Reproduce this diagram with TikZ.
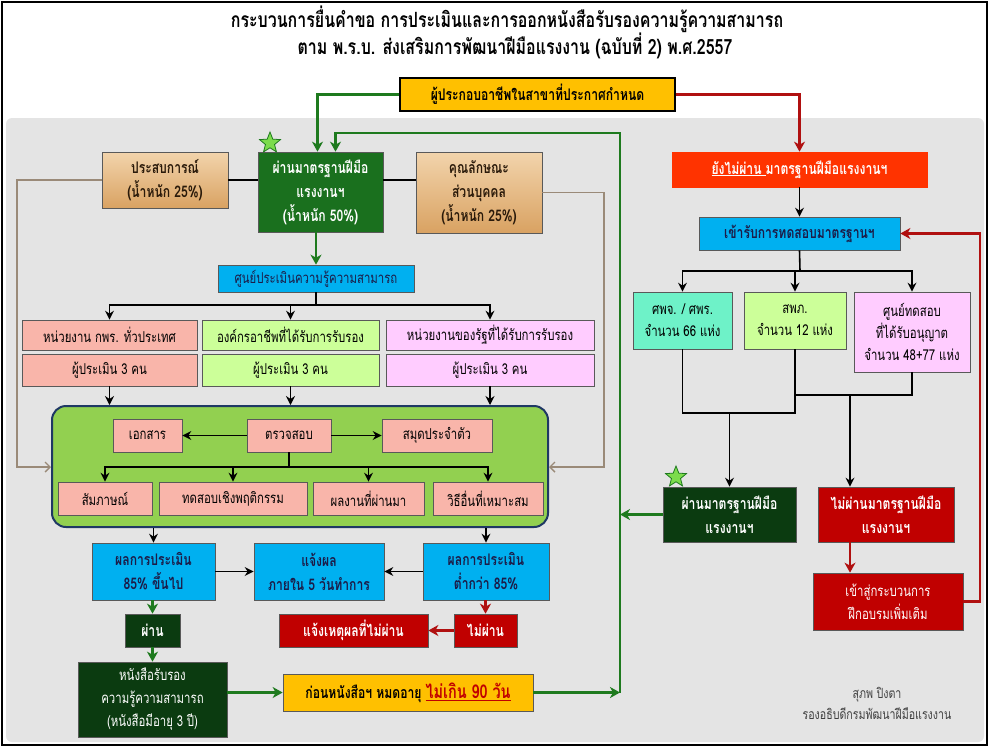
\documentclass[tikz,border=0pt]{standalone}
\usepackage{fontspec}
\setmainfont{Loma}[Script=Thai,FakeStretch=0.76]
\usetikzlibrary{arrows.meta,shapes.geometric,calc}
\definecolor{cYel}{HTML}{FFC000}
\definecolor{cGreen}{HTML}{1A701E}
\definecolor{cDark}{HTML}{0B3B10}
\definecolor{cTanA}{HTML}{F2D4AC}
\definecolor{cTanB}{HTML}{D9A262}
\definecolor{cBlue}{HTML}{00B0F0}
\definecolor{cSalm}{HTML}{F9B5AA}
\definecolor{cLime}{HTML}{CCFF99}
\definecolor{cPink}{HTML}{FFCCFF}
\definecolor{cTeal}{HTML}{6EF2C8}
\definecolor{cArea}{HTML}{92D050}
\definecolor{cNavy}{HTML}{1F3864}
\definecolor{cOrg}{HTML}{FF3300}
\definecolor{cRed}{HTML}{C00000}
\definecolor{cLineG}{HTML}{1E7A1E}
\definecolor{cLineR}{HTML}{B01010}
\definecolor{cBrown}{HTML}{9A8A78}
\definecolor{cPanel}{HTML}{E4E4E4}
\definecolor{cStar}{HTML}{7CDC4C}
\definecolor{cTxt}{HTML}{1C1C48}
\definecolor{cTanT}{HTML}{2A1A0A}
\begin{document}
\begin{tikzpicture}[x=1pt,y=-1pt,
  bx/.style={draw=black!65, line width=0.7pt, inner sep=1pt, align=center},
  wh/.style 2 args={minimum width=#1pt, minimum height=#2pt},
  fR/.style={font=\fontsize{15}{22}\selectfont},
  fB/.style={font=\fontsize{16}{24}\selectfont\bfseries},
  blk/.style={line width=1.6pt, draw=black},
  barr/.style={blk, -{Stealth[length=9pt,width=9pt,inset=3pt]}},
  gln/.style={line width=2.4pt, draw=cLineG},
  garr/.style={gln, -{Stealth[length=10pt,width=11pt,inset=3pt]}},
  rln/.style={line width=2.2pt, draw=cLineR},
  rarr/.style={rln, -{Stealth[length=10pt,width=11pt,inset=3pt]}},
  brln/.style={line width=1.4pt, draw=cBrown},
  brarr/.style={brln, -{Straight Barb[length=5pt,width=10pt]}},
  starry/.style={star, star points=5, star point ratio=2.3, fill=cStar, draw=cLineG, line width=0.8pt, minimum size=22pt, inner sep=0pt}
]
\useasboundingbox (0,0) rectangle (989,748);
\fill[white] (0,0) rectangle (989,748);
\fill[cPanel, rounded corners=6pt] (6,118) rectangle (984,742);
\draw[line width=2pt] (2,2) rectangle (987,745);

% titles
\node[font=\fontsize{21}{24}\selectfont\bfseries] (t1) at (507,19) {กระบวนการยื่นคำขอ การประเมินและการออกหนังสือรับรองความรู้ความสามารถ};
\node[font=\fontsize{21}{24}\selectfont\bfseries] (t2) at (515,46) {ตาม พ.ร.บ. ส่งเสริมการพัฒนาฝีมือแรงงาน (ฉบับที่ 2) พ.ศ.2557};

% top
\node[bx, draw=black, line width=2.5pt, fill=cYel, wh={275}{33}, fB] (top) at (537.5,94.5) {ผู้ประกอบอาชีพในสาขาที่ประกาศกำหนด};

% left part
\node[bx, fill=cGreen, text=white, wh={125}{80}, fB] (G) at (320.5,192) {ผ่านมาตรฐานฝีมือ\\แรงงานฯ\\(น้ำหนัก 50\%)};
\node[bx, top color=cTanA, bottom color=cTanB, text=cTanT, wh={126}{56}, fB] (L) at (165,180) {ประสบการณ์\\(น้ำหนัก 25\%)};
\node[bx, top color=cTanA, bottom color=cTanB, text=cTanT, wh={126}{81}, fB] (Rt) at (479,192.5) {คุณลักษณะ\\ส่วนบุคคล\\(น้ำหนัก 25\%)};
\node[bx, fill=cBlue, text=cTxt, wh={196}{27}, fR] (C) at (316,278.5) {ศูนย์ประเมินความรู้ความสามารถ};

\node[bx, fill=cSalm, wh={175}{30}, fR] (A1) at (109.5,335) {หน่วยงาน กพร. ทั่วประเทศ};
\node[bx, fill=cLime, wh={177}{30}, fR] (A2) at (290.5,335) {องค์กรอาชีพที่ได้รับการรับรอง};
\node[bx, fill=cPink, wh={208}{30}, fR] (A3) at (490,335) {หน่วยงานของรัฐที่ได้รับการรับรอง};
\node[bx, fill=cSalm, wh={175}{32}, fR] (B1) at (109.5,370) {ผู้ประเมิน 3 คน};
\node[bx, fill=cLime, wh={177}{32}, fR] (B2) at (290.5,370) {ผู้ประเมิน 3 คน};
\node[bx, fill=cPink, wh={208}{32}, fR] (B3) at (490,370) {ผู้ประเมิน 3 คน};

\node[draw=cNavy, line width=2pt, fill=cArea, rounded corners=14pt, wh={496}{121}] (GA) at (300,466.5) {};
\node[bx, fill=cSalm, wh={69}{33}, fR] (Doc) at (147.5,435.5) {เอกสาร};
\node[bx, fill=cSalm, wh={84}{33}, fR] (Check) at (289,435.5) {ตรวจสอบ};
\node[bx, fill=cSalm, wh={110}{33}, fR] (Book) at (437,435.5) {สมุดประจำตัว};
\node[bx, fill=cSalm, wh={94}{33}, fR] (S1) at (105,498.5) {สัมภาษณ์};
\node[bx, fill=cSalm, wh={148}{33}, fR] (S2) at (233,498.5) {ทดสอบเชิงพฤติกรรม};
\node[bx, fill=cSalm, wh={111}{33}, fR] (S3) at (368.5,498.5) {ผลงานที่ผ่านมา};
\node[bx, fill=cSalm, wh={110}{33}, fR] (S4) at (488,498.5) {วิธีอื่นที่เหมาะสม};

\node[bx, fill=cBlue, text=cTxt, wh={123}{57}, fB] (P1) at (153.5,571.5) {ผลการประเมิน\\85\% ขึ้นไป};
\node[bx, fill=cBlue, text=cTxt, wh={130}{57}, fB] (N) at (319,571.5) {แจ้งผล\\ภายใน 5 วันทำการ};
\node[bx, fill=cBlue, text=cTxt, wh={126}{57}, fB] (P2) at (486,571.5) {ผลการประเมิน\\ต่ำกว่า 85\%};
\node[bx, fill=cDark, text=white, wh={55}{33}, fB] (Pass) at (152.5,630.5) {ผ่าน};
\node[bx, fill=cRed, text=white, wh={149}{33}, fB] (Reason) at (353.5,630.5) {แจ้งเหตุผลที่ไม่ผ่าน};
\node[bx, fill=cRed, text=white, wh={63}{33}, fB] (Fail) at (485.5,630.5) {ไม่ผ่าน};
\node[bx, fill=cDark, text=white, wh={149}{75}, font=\fontsize{15}{23}\selectfont] (Cert) at (152.5,699.5) {หนังสือรับรอง\\ความรู้ความสามารถ\\(หนังสือมีอายุ 3 ปี)};
\node[bx, fill=cYel, wh={250}{37}, fB] (Y2) at (408,692.5) {ก่อนหนังสือฯ หมดอายุ {\fontsize{19}{24}\selectfont\color{cRed}\underline{ไม่เกิน 90 วัน}}};

% right part
\node[bx, draw=cOrg, fill=cOrg, text=white, wh={255}{35}, fB] (NP) at (799.5,169.5) {\underline{ยังไม่ผ่าน\ }มาตรฐานฝีมือแรงงานฯ};
\node[bx, fill=cBlue, text=cTxt, wh={201}{33}, fB] (T) at (799.5,233.5) {เข้ารับการทดสอบมาตรฐานฯ};
\node[bx, fill=cTeal, wh={99}{57}, fR] (R1) at (682.5,320.5) {ศพจ. / ศพร.\\จำนวน 66 แห่ง};
\node[bx, fill=cLime, wh={102}{57}, fR] (R2) at (795,320.5) {สพภ.\\จำนวน 12 แห่ง};
\node[bx, fill=cPink, wh={116}{80}, fR] (R3) at (912,332) {ศูนย์ทดสอบ\\ที่ได้รับอนุญาต\\จำนวน 48+77 แห่ง};
\node[bx, fill=cDark, text=white, wh={133}{55}, fB] (RP) at (729.5,514.5) {ผ่านมาตรฐานฝีมือ\\แรงงานฯ};
\node[bx, fill=cRed, text=white, wh={136}{55}, fB] (RF) at (886,514.5) {ไม่ผ่านมาตรฐานฝีมือ\\แรงงานฯ};
\node[bx, fill=cRed, text=white, wh={150}{57}, font=\fontsize{15}{23}\selectfont] (RT) at (888,601.5) {เข้าสู่กระบวนการ\\ฝึกอบรมเพิ่มเติม};

\node[align=center, text=black!75, font=\fontsize{14}{21}\selectfont] (sig) at (877,703) {สุภพ ปิงตา\\รองอธิบดีกรมพัฒนาฝีมือแรงงาน};

\node[starry] (s1) at (270,143) {};
\node[starry] (s2) at (676,477) {};

% ---- connectors ----
\draw[garr] (top.west) -| ([xshift=-3pt]G.north);
\coordinate (gb) at (620,692.5);
\coordinate (gv) at (620,133);
\draw[garr] (gb) -- (gv) -| ([xshift=15pt]G.north);
\draw[garr] (Y2.east) -- (gb);
\draw[garr] (RP.west) -- (RP.west -| gb);
\draw[rarr] (top.east) -| (NP.north);

\coordinate (ty) at (0,180);
\draw[blk] (L.east |- ty) -- (G.west |- ty);
\draw[blk] (G.east |- ty) -- (Rt.west |- ty);
\coordinate (bl) at (17,467);
\coordinate (br) at (604,467);
\draw[brarr] (L.west) -| (bl) -- (GA.west |- bl);
\draw[brarr] (Rt.east) -| (br) -- (GA.east |- br);

\draw[garr] (C.north |- G.south) -- (C.north);
\coordinate (cj) at (316,305);
\draw[blk] (C.south) -- (cj);
\draw[blk, line cap=rect] (A1.north |- cj) -- (A3.north |- cj);
\draw[barr] (A1.north |- cj) -- (A1.north);
\draw[barr] (A2.north |- cj) -- (A2.north);
\draw[barr] (A3.north |- cj) -- (A3.north);
\draw[barr] (B1.south) -- (B1.south |- GA.north);
\draw[barr] (B2.south) -- (B2.south |- GA.north);
\draw[barr] (B3.south) -- (B3.south |- GA.north);

\draw[barr] (Check.west) -- (Doc.east);
\draw[barr] (Check.east) -- (Book.west);
\coordinate (kj) at (289,467);
\draw[blk] (Check.south) -- (kj);
\draw[blk, line cap=rect] (S1.north |- kj) -- (S4.north |- kj);
\draw[barr] (S1.north |- kj) -- (S1.north);
\draw[barr] (S2.north |- kj) -- (S2.north);
\draw[barr] (S3.north |- kj) -- (S3.north);
\draw[barr] (S4.north |- kj) -- (S4.north);

\draw[barr] (P1.north |- GA.south) -- (P1.north);
\draw[barr] (P2.north |- GA.south) -- (P2.north);
\draw[barr] (P1.east) -- (N.west);
\draw[barr] (P2.west) -- (N.east);
\draw[garr] (Pass.north |- P1.south) -- (Pass.north);
\draw[garr] (Pass.south) -- (Cert.north);
\draw[garr] (Cert.east |- Y2.west) -- (Y2.west);
\draw[rarr] (Fail.north |- P2.south) -- (Fail.north);
\draw[rarr] (Fail.west) -- (Reason.east);

\draw[barr] (NP.south) -- (T.north);
\coordinate (tj) at (800,271);
\draw[blk] (T.south) -- (tj);
\draw[blk, line cap=rect] (R1.north |- tj) -- (R3.north |- tj);
\draw[barr] (R1.north |- tj) -- (R1.north);
\draw[barr] (R2.north |- tj) -- (R2.north);
\draw[barr] (R3.north |- tj) -- (R3.north);
\coordinate (pj) at (0,413);
\coordinate (fj) at (0,395);
\coordinate (fx) at (850,0);
\draw[blk] (R1.south) -- (R1.south |- pj) -- (R2.south |- pj) -- (R2.south);
\draw[barr] (RP.north |- pj) -- (RP.north);
\draw[blk] (R3.south) -- (R3.south |- fj) -- (R2.south |- fj);
\draw[barr] (fx |- fj) -- (fx |- RF.north);
\draw[rarr] (fx |- RF.south) -- (fx |- RT.north);
\coordinate (rx) at (980,0);
\draw[rarr] (RT.east) -- (RT.east -| rx) |- (T.east);
\end{tikzpicture}
\end{document}
